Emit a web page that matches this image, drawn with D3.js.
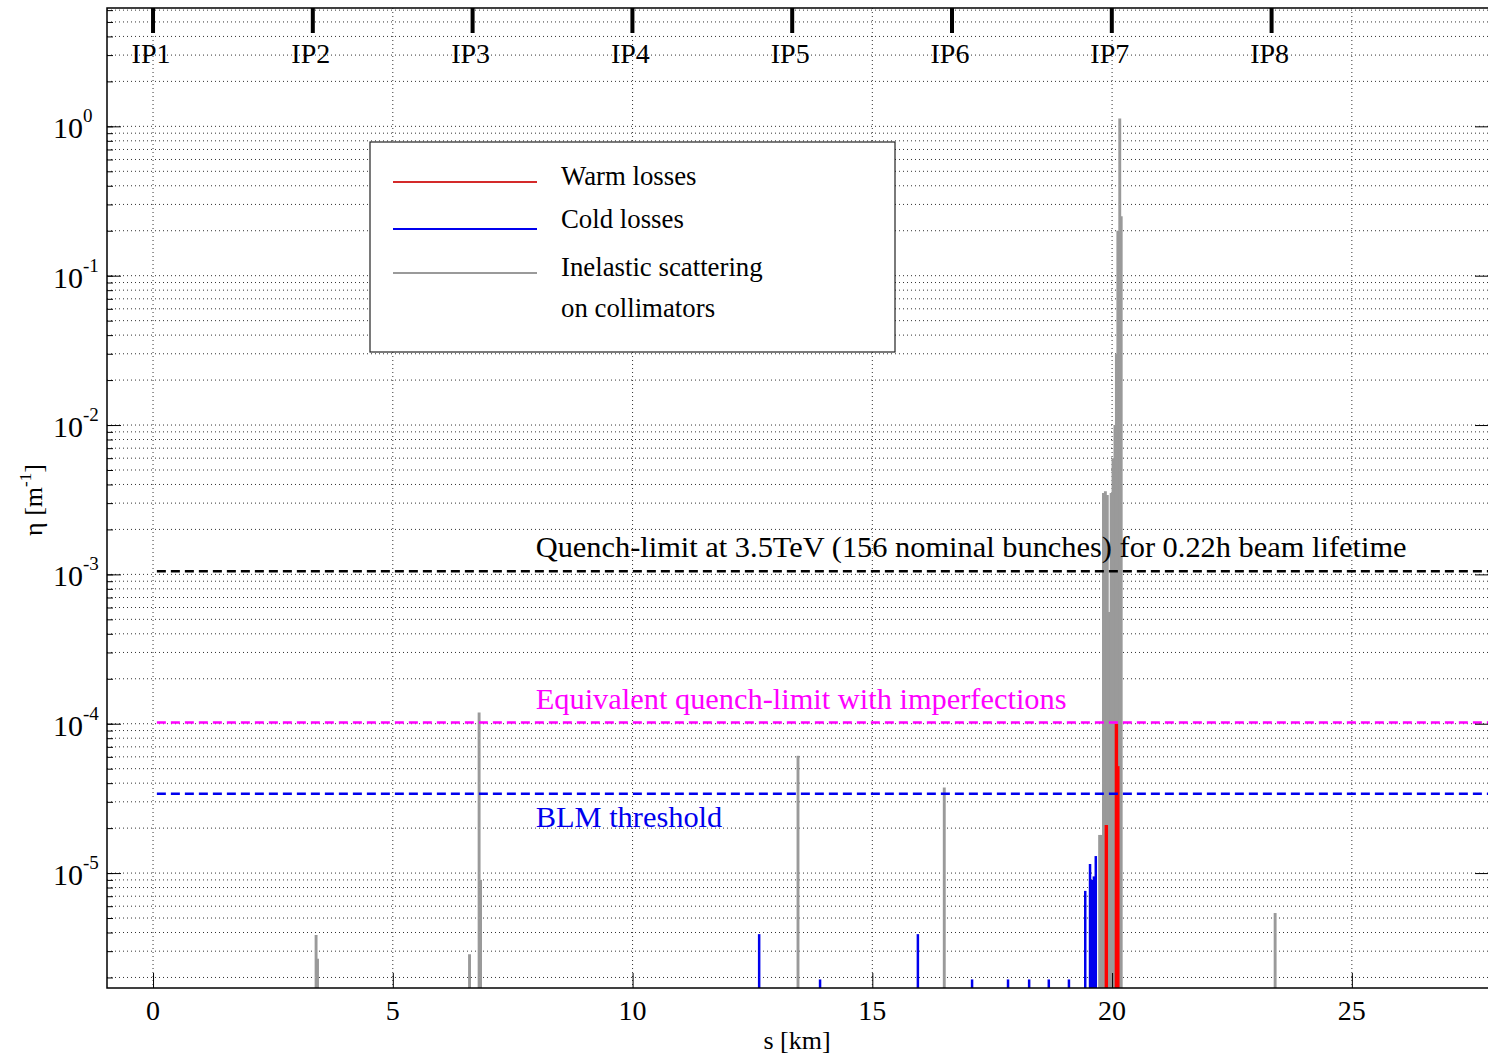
<!DOCTYPE html>
<html>
<head>
<meta charset="utf-8">
<script src="https://cdn.jsdelivr.net/npm/d3@7"></script>
<style>
  body { margin: 0; background: #fff; }
  text { font-family: "Liberation Serif", "Times New Roman", serif; }
</style>
</head>
<body>
<svg id="chart" width="1488" height="1055"></svg>
<script>
// interaction points along the ring
const ipNames = ["IP1", "IP2", "IP3", "IP4", "IP5", "IP6", "IP7", "IP8"];
const ipPositions = [0, 3.332, 6.664, 9.997, 13.329, 16.661, 19.994, 23.326];

// x ticks in km, y decades
const xTicks = [0, 5, 10, 15, 20, 25];
const yExponents = [0, -1, -2, -3, -4, -5];

// inelastic scattering on collimators (grey)
const inelasticS = [3.40, 3.43, 6.60, 6.80, 6.83, 13.45, 16.50,
  19.74, 19.78, 19.82, 19.86, 19.90, 19.94, 19.98, 20.02, 20.06, 20.09, 20.12, 20.16, 20.19,
  23.40];
const inelasticV = [3.85e-6, 2.67e-6, 2.86e-6, 1.19e-4, 9.0e-6, 6.1e-5, 3.74e-5,
  1.8e-5, 1.8e-5, 3.5e-3, 3.6e-3, 3.4e-3, 5.6e-4, 3.5e-3, 6e-3, 0.01, 0.03, 0.2, 1.13, 0.25,
  5.4e-6];

// cold losses (blue)
const coldS = [12.64, 13.91, 15.95, 17.08, 17.83, 18.27, 18.68, 19.10, 19.44, 19.54, 19.58, 19.62, 19.66];
const coldV = [3.9e-6, 1.94e-6, 3.9e-6, 1.94e-6, 1.94e-6, 1.94e-6, 1.94e-6, 1.94e-6, 7.6e-6, 1.15e-5, 9.0e-6, 9.5e-6, 1.3e-5];

// warm losses (red)
const warmS = [19.88, 20.09, 20.12];
const warmV = [2.1e-5, 1.0e-4, 5.2e-5];

// horizontal limits
const limitLabels = [
  "Quench-limit at 3.5TeV (156 nominal bunches) for 0.22h beam lifetime",
  "Equivalent quench-limit with imperfections",
  "BLM threshold"
];
const limitValues = [1.05e-3, 1.02e-4, 3.4e-5];
const limitColors = ["#000", "#ff00ff", "#0000ee"];

const legendLabels = ["Warm losses", "Cold losses", "Inelastic scattering"];
const legendColors = ["#d42a2a", "#0000ee", "#9a9a9a"];

const svg = d3.select("#chart");
const plotLeft = 107, plotRight = 1489, plotTop = 8, plotBottom = 988;

const x = d3.scaleLinear().domain([-0.96, 27.86]).range([plotLeft, plotRight]);
const y = d3.scaleLog().domain([1.7e-6, 6.2]).range([plotBottom, plotTop]);

// grid
const grid = svg.append("g")
  .attr("stroke", "#333")
  .attr("stroke-width", 1)
  .attr("stroke-dasharray", "1,3");

grid.selectAll(".hgrid")
  .data(y.ticks().filter(v => y(v) > plotTop + 1 && y(v) < plotBottom - 1))
  .enter().append("line")
  .attr("x1", plotLeft).attr("x2", plotRight)
  .attr("y1", d => y(d)).attr("y2", d => y(d));

grid.selectAll(".vgrid")
  .data(xTicks)
  .enter().append("line")
  .attr("x1", d => x(d)).attr("x2", d => x(d))
  .attr("y1", plotTop).attr("y2", plotBottom);

// loss stems
function drawStems(sArr, vArr, color, w) {
  svg.append("g").selectAll("line")
    .data(sArr.map((s, i) => ({ s, v: vArr[i] })))
    .enter().append("line")
    .attr("x1", d => x(d.s)).attr("x2", d => x(d.s))
    .attr("y1", plotBottom).attr("y2", d => y(d.v))
    .attr("stroke", color)
    .attr("stroke-width", w);
}
drawStems(inelasticS, inelasticV, "#9a9a9a", 2.9);
drawStems(coldS, coldV, "#0000ee", 2.5);
drawStems(warmS, warmV, "#ff0000", 3.4);

// dashed limits
limitValues.forEach((v, i) => {
  svg.append("line")
    .attr("x1", x(0.08)).attr("x2", plotRight)
    .attr("y1", y(v)).attr("y2", y(v))
    .attr("stroke", limitColors[i])
    .attr("stroke-width", 2.6)
    .attr("stroke-dasharray", "9,5");
});
const labelDy = [-14, -13, 33];
limitLabels.forEach((t, i) => {
  svg.append("text")
    .attr("x", x(7.98))
    .attr("y", y(limitValues[i]) + labelDy[i])
    .attr("font-size", 30.4)
    .attr("fill", limitColors[i])
    .text(t);
});

// legend
const lg = svg.append("g");
lg.append("rect")
  .attr("x", 370).attr("y", 142).attr("width", 525).attr("height", 210)
  .attr("fill", "#fff").attr("stroke", "#222").attr("stroke-width", 1.2);
const legendY = [182, 229, 273];
legendLabels.forEach((t, i) => {
  lg.append("line")
    .attr("x1", 393).attr("x2", 537)
    .attr("y1", legendY[i]).attr("y2", legendY[i])
    .attr("stroke", legendColors[i]).attr("stroke-width", 2.2);
  lg.append("text")
    .attr("x", 561).attr("y", legendY[i] + (i === 1 ? -1 : 3))
    .attr("font-size", 26.8)
    .text(t);
});
lg.append("text").attr("x", 561).attr("y", 317).attr("font-size", 26.8).text("on collimators");

// frame
svg.append("rect")
  .attr("x", plotLeft).attr("y", plotTop)
  .attr("width", plotRight - plotLeft).attr("height", plotBottom - plotTop)
  .attr("fill", "none").attr("stroke", "#000").attr("stroke-width", 1.5);

// y ticks: major and minor, inward
const majors = yExponents.map(e => Math.pow(10, e));
const minors = y.ticks().filter(v => y(v) > plotTop && y(v) < plotBottom);
svg.append("g")
  .attr("transform", `translate(${plotLeft},0)`)
  .call(d3.axisLeft(y).tickValues(minors).tickSize(-6).tickFormat(""))
  .call(g => g.select(".domain").remove());
svg.append("g")
  .attr("transform", `translate(${plotLeft},0)`)
  .call(d3.axisLeft(y).tickValues(majors).tickSize(-14).tickFormat(""))
  .call(g => g.select(".domain").remove());
svg.append("g")
  .attr("transform", `translate(${plotRight},0)`)
  .call(d3.axisRight(y).tickValues(majors).tickSize(-14).tickFormat(""))
  .call(g => g.select(".domain").remove());

// y labels 10^n
yExponents.forEach(e => {
  const yy = y(Math.pow(10, e));
  const t = svg.append("text").attr("x", 53).attr("y", yy + 12).attr("font-size", 30);
  t.append("tspan").text("10");
  t.append("tspan").attr("dy", -16).attr("font-size", 19).text(String(e));
});

// x ticks
svg.append("g")
  .attr("transform", `translate(0,${plotBottom})`)
  .call(d3.axisBottom(x).tickValues(xTicks).tickSize(-15).tickFormat(""))
  .call(g => g.select(".domain").remove());
svg.selectAll(".xlab")
  .data(xTicks)
  .enter().append("text")
  .attr("x", d => x(d)).attr("y", 1020)
  .attr("text-anchor", "middle").attr("font-size", 28)
  .text(d => d);

// IP markers on top
svg.selectAll(".ipTick")
  .data(ipPositions)
  .enter().append("line")
  .attr("x1", d => x(d)).attr("x2", d => x(d))
  .attr("y1", plotTop).attr("y2", 33)
  .attr("stroke", "#000").attr("stroke-width", 4);
svg.selectAll(".ipLab")
  .data(ipNames)
  .enter().append("text")
  .attr("x", (d, i) => x(ipPositions[i]) - 2)
  .attr("y", 63)
  .attr("text-anchor", "middle").attr("font-size", 28)
  .text(d => d);

// axis titles
svg.append("text")
  .attr("x", 797).attr("y", 1049)
  .attr("text-anchor", "middle").attr("font-size", 26)
  .text("s [km]");
const yt = svg.append("text")
  .attr("transform", "translate(42,500) rotate(-90)")
  .attr("text-anchor", "middle").attr("font-size", 26);
yt.append("tspan").text("η [m");
yt.append("tspan").attr("dy", -11).attr("font-size", 17).text("-1");
yt.append("tspan").attr("dy", 11).text("]");
</script>
</body>
</html>
